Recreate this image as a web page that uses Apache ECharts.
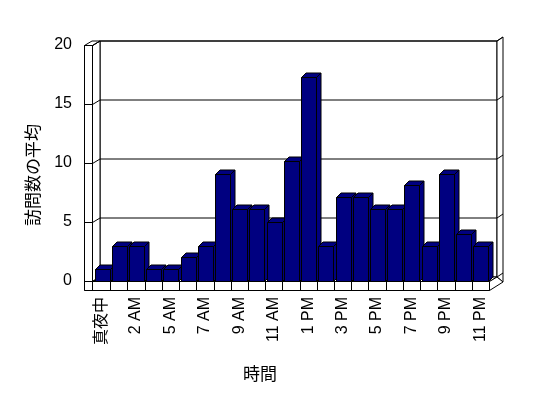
<!DOCTYPE html>
<html>
<head>
<meta charset="utf-8">
<script src="https://cdn.jsdelivr.net/npm/echarts@6/dist/echarts.min.js"></script>
<style>html,body{margin:0;padding:0;background:#fff;}#c{width:548px;height:398px;}</style>
</head>
<body>
<div id="c"></div>
<script>
const categories = ['真夜中','1 AM','2 AM','4 AM','5 AM','6 AM','7 AM','8 AM','9 AM','10 AM','11 AM','12 PM','1 PM','2 PM','3 PM','4 PM','5 PM','6 PM','7 PM','8 PM','9 PM','10 PM','11 PM'];
const visits = [1, 3, 3, 1, 1, 2, 3, 9.1, 6.1, 6.1, 5, 10.2, 17.3, 3, 7.1, 7.1, 6.1, 6.1, 8.1, 3, 9.1, 4, 3];
const yTicks = [0, 5, 10, 15, 20];
const yMax = 20;
const xTitle = '時間';
const yTitle = '訪問数の平均';

// 3D styling constants (pixels)
const D = {x: 7.5, y: -4.5};    // wall depth
const BD = {x: 4.5, y: -4.5};   // bar depth
const BT = {x: 6, y: -4};       // back wall thickness
const T = 8;                    // left wall thickness
const F = 9;                    // floor thickness
const NAVY = '#000080';
const S = {fill: '#fff', stroke: '#000', lineWidth: 1};
const r = v => Math.round(v) + 0.5;

const chart = echarts.init(document.getElementById('c'), null, {renderer: 'canvas'});

function renderWalls(params, api) {
  const n = categories.length;
  const bw = api.size([1, 0])[0];
  const x0 = api.coord([0, 0])[0] - bw / 2;
  const x1 = r(api.coord([n - 1, 0])[0] + bw / 2);
  const y0 = r(api.coord([0, 0])[1]);
  const yT = r(api.coord([0, yMax])[1]);
  const xl = r(x0 - 1.5);
  const xo = xl - T;
  const ch = [];
  const poly = pts => ({type: 'polygon', shape: {points: pts}, style: Object.assign({}, S)});
  const line = (a, b, c, d) => ({type: 'line', shape: {x1: a, y1: b, x2: c, y2: d}, style: {stroke: '#000', lineWidth: 1}});
  // back wall
  ch.push(poly([[xl + D.x, yT + D.y], [x1 + D.x, yT + D.y], [x1 + D.x, y0 + D.y], [xl + D.x, y0 + D.y]]));
  // left wall side
  ch.push(poly([[xl, yT], [xl + D.x, yT + D.y], [xl + D.x, y0 + D.y], [xl, y0]]));
  // floor top
  ch.push(poly([[xl, y0], [x1, y0], [x1 + D.x, y0 + D.y], [xl + D.x, y0 + D.y]]));
  // back wall right thickness
  ch.push(poly([[x1 + D.x, yT + D.y], [x1 + D.x + BT.x, yT + D.y + BT.y], [x1 + D.x + BT.x, y0 + F + D.y + BT.y], [x1 + D.x, y0 + D.y]]));
  // floor right side
  ch.push(poly([[x1, y0], [x1, y0 + F], [x1 + D.x + BT.x, y0 + F + D.y + BT.y], [x1 + D.x, y0 + D.y]]));
  // left wall top
  ch.push(poly([[xo, yT], [xl, yT], [xl + D.x, yT + D.y], [xo + D.x, yT + D.y]]));
  // left wall front
  ch.push(poly([[xo, yT], [xl, yT], [xl, y0 + F], [xo, y0 + F]]));
  // floor front
  ch.push(poly([[xl, y0], [x1, y0], [x1, y0 + F], [xl, y0 + F]]));
  ch.push(line(xo, y0 + F, x1, y0 + F));
  // gridlines
  yTicks.forEach(v => {
    const y = r(api.coord([0, v])[1]);
    if (v > 0) ch.push(line(xl + D.x, y + D.y, x1 + D.x, y + D.y));
    ch.push(line(xo, y, xl, y));
    ch.push(line(xl, y, xl + D.x, y + D.y));
    ch.push(line(x1 + D.x, y + D.y, x1 + D.x + BT.x, y + D.y + BT.y));
  });
  // category boundary ticks on floor front
  for (let i = 1; i < n; i++) {
    const x = r(api.coord([i, 0])[0] - bw / 2);
    ch.push(line(x, y0, x, y0 + F));
  }
  return {type: 'group', children: ch};
}

function renderBar(params, api) {
  const i = api.value(0);
  const v = api.value(1);
  const bw = api.size([1, 0])[0];
  const c = api.coord([i, v]);
  const base = Math.round(api.coord([i, 0])[1]) + 0.5;
  const top = Math.round(c[1]) + 0.5;
  const left = Math.round(c[0] - bw / 2 + 1.5) + 0.5;
  const w = Math.round(bw * 0.86);
  const st = {fill: NAVY, stroke: '#000', lineWidth: 1};
  return {type: 'group', children: [
    {type: 'polygon', shape: {points: [[left + w, top], [left + w + BD.x, top + BD.y], [left + w + BD.x, base + BD.y], [left + w, base]]}, style: Object.assign({}, st)},
    {type: 'polygon', shape: {points: [[left, top], [left + BD.x, top + BD.y], [left + w + BD.x, top + BD.y], [left + w, top]]}, style: Object.assign({}, st)},
    {type: 'rect', shape: {x: left, y: top, width: w, height: base - top}, style: Object.assign({}, st)}
  ]};
}

const option = {
  backgroundColor: '#fff',
  animation: false,
  grid: {left: 93, right: 59, top: 45, bottom: 117, containLabel: false},
  xAxis: {
    type: 'category', data: categories,
    axisLine: {show: false}, axisTick: {show: false}, splitLine: {show: false},
    axisLabel: {rotate: 90, interval: 1, fontSize: 16, margin: 16, color: '#000', fontFamily: 'Liberation Sans, Noto Sans CJK JP'},
    name: xTitle, nameLocation: 'middle', nameGap: 84,
    nameTextStyle: {fontSize: 17, color: '#000', fontFamily: 'Noto Sans CJK JP', padding: [0, 62, 0, 0]}
  },
  yAxis: {
    type: 'value', min: 0, max: yMax, interval: 5,
    axisLine: {show: false}, axisTick: {show: false}, splitLine: {show: false},
    axisLabel: {fontSize: 16, margin: 21, color: '#000', fontFamily: 'Liberation Sans'},
    name: yTitle, nameLocation: 'middle', nameGap: 52,
    nameTextStyle: {fontSize: 17, color: '#000', fontFamily: 'Noto Sans CJK JP', padding: [0, 24, 0, 0]}
  },
  series: [
    {type: 'custom', renderItem: renderWalls, data: [[0, 0]], clip: false, silent: true, z: 1},
    {type: 'custom', renderItem: renderBar, data: visits.map((v, i) => [i, v]), clip: false, z: 2,
     encode: {x: 0, y: 1}}
  ]
};
chart.setOption(option);
</script>
</body>
</html>
